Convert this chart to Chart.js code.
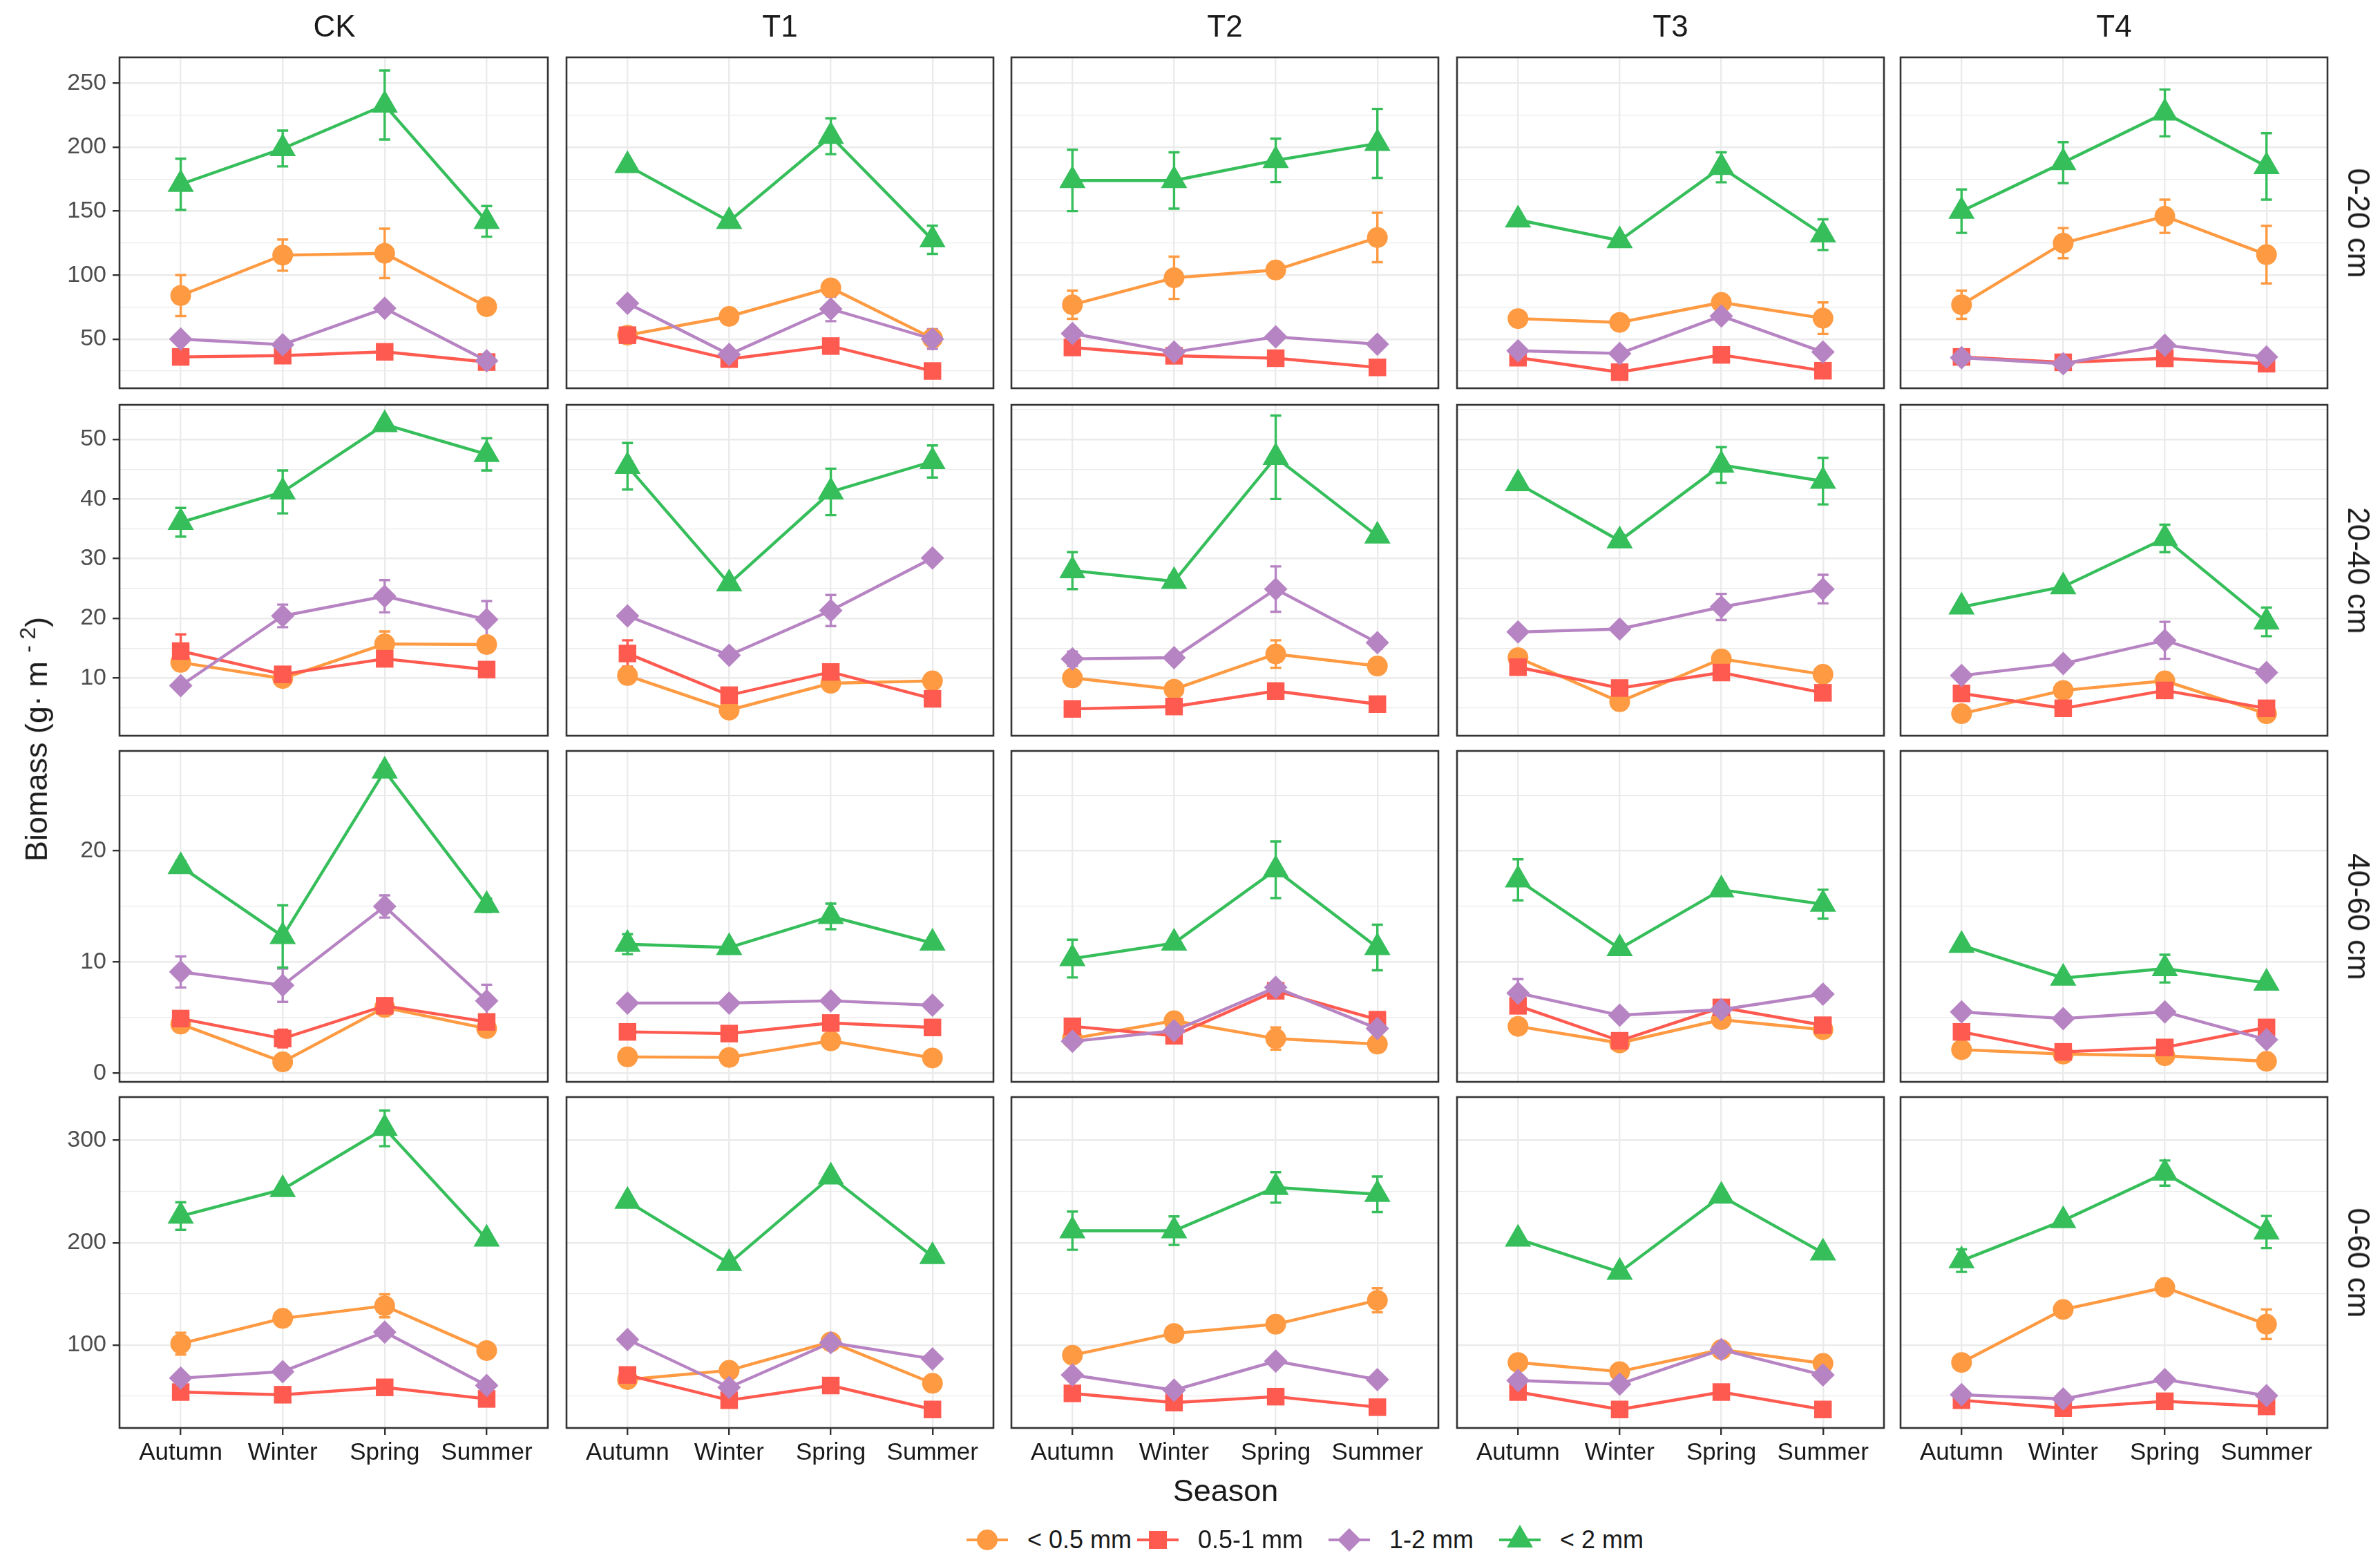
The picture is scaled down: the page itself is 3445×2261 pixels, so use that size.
<!DOCTYPE html>
<html>
<head>
<meta charset="utf-8">
<script src="https://cdn.jsdelivr.net/npm/chart.js@4.4.1/dist/chart.umd.min.js"></script>
<style>
html,body{margin:0;padding:0;background:#fff;}
body{width:3445px;height:2261px;position:relative;overflow:hidden;font-family:"Liberation Sans",Arial,Helvetica,sans-serif;}
.cw{position:absolute;}
.cw canvas{display:block;}
.lbl{position:absolute;white-space:nowrap;color:#1a1a1a;line-height:1;}
</style>
</head>
<body>
<script>
// ---------------- DATA ----------------
const seasons = ['Autumn', 'Winter', 'Spring', 'Summer'];
const treatments = ['CK', 'T1', 'T2', 'T3', 'T4'];
const depths = ['0-20 cm', '20-40 cm', '40-60 cm', '0-60 cm'];
const sizeClasses = ['< 0.5 mm', '0.5-1 mm', '1-2 mm', '< 2 mm'];

// y-axis ranges and tick labels per depth row
const yMin = [11.5, 0.3, -0.8, 18.9];
const yMax = [270.3, 55.8, 29.0, 342.3];
const yMajorTicks = [[50, 100, 150, 200, 250], [10, 20, 30, 40, 50], [0, 10, 20], [100, 200, 300]];
const yMinorTicks = [[25, 75, 125, 175, 225], [5, 15, 25, 35, 45, 55], [5, 15, 25], [50, 150, 250]];

// values: one array per size class and depth; rows = CK, T1, T2, T3, T4; columns = seasons
// 0-20 cm
const lt05_0_20 = [[84, 115.6, 117, 75.3], [53, 67.7, 90, 50.6], [76.8, 97.9, 104, 129.4], [66, 63, 78.6, 66.3], [76.8, 125, 146, 116]];
const lt05_0_20_se = [[16, 12.2, 19.3, 3], [0, 2, 2, 6], [11, 16.5, 5, 19.3], [2, 2, 3, 12.3], [11, 11.8, 13, 22.5]];
const r05_1_0_20 = [[36, 37, 40, 32], [53, 34.3, 44.5, 25], [43.4, 36.9, 35, 27.8], [35.4, 24.1, 37.6, 25.2], [36, 31.8, 34.9, 30.7]];
const r05_1_0_20_se = [[3, 3, 3, 2], [3, 2, 3, 2], [3, 2, 2, 2], [2, 2, 2, 2], [2, 2, 2, 2]];
const r1_2_0_20 = [[50, 45.6, 74, 33], [78, 38, 73.5, 50], [54.3, 39.8, 51.7, 46], [40.8, 38.7, 68, 39.8], [35.4, 30.7, 45.2, 36]];
const r1_2_0_20_se = [[3, 3, 4, 3], [3, 3, 9.5, 7.7], [4, 2, 3, 3], [2, 2, 3, 2], [2, 2, 3, 2]];
const lt2_0_20 = [[171, 199, 233, 142], [185.7, 142, 208.6, 127.6], [174, 174, 189.7, 203], [143.2, 127, 184.3, 131.6], [150, 188, 226.8, 185]];
const lt2_0_20_se = [[20, 14, 27, 12], [2, 2, 14, 11], [24, 22, 17, 27], [2, 2, 11.7, 12], [17, 16, 18.3, 26]];
// 20-40 cm
const lt05_20_40 = [[12.6, 9.9, 15.7, 15.6], [10.4, 4.6, 9.1, 9.5], [10, 8.1, 14, 12], [13.4, 6, 13.2, 10.6], [4, 7.9, 9.5, 4]];
const lt05_20_40_se = [[1, 0.8, 2.1, 1], [0.8, 0.6, 0.6, 0.6], [0.8, 0.8, 2.3, 0.8], [0.6, 0.6, 0.6, 0.6], [0.6, 0.6, 0.6, 0.6]];
const r05_1_20_40 = [[14.5, 10.6, 13.2, 11.4], [14.1, 7.1, 11, 6.5], [4.8, 5.2, 7.8, 5.6], [11.8, 8.3, 10.9, 7.5], [7.4, 4.9, 7.9, 4.9]];
const r05_1_20_40_se = [[2.8, 0.8, 1, 0.8], [2.2, 0.8, 0.8, 0.8], [0.6, 0.6, 0.6, 0.6], [0.6, 0.6, 0.6, 0.6], [0.6, 0.6, 0.6, 0.6]];
const r1_2_20_40 = [[8.7, 20.4, 23.7, 19.8], [20.4, 13.8, 21.3, 30.1], [13.2, 13.4, 24.9, 15.9], [17.7, 18.2, 21.9, 24.9], [10.4, 12.4, 16.3, 10.9]];
const r1_2_20_40_se = [[0.8, 1.9, 2.7, 3.1], [0.8, 0.8, 2.6, 0.8], [1.2, 0.8, 3.8, 1], [0.8, 0.8, 2.2, 2.4], [0.8, 0.8, 3.1, 0.8]];
const lt2_20_40 = [[36.1, 41.2, 52.5, 47.5], [45.5, 25.8, 41.2, 46.3], [28, 26.2, 47, 33.8], [42.6, 33, 45.7, 43], [21.9, 25.3, 33.4, 19.4]];
const lt2_20_40_se = [[2.4, 3.6, 0.8, 2.7], [3.9, 0.8, 3.9, 2.7], [3.1, 1, 7, 0.8], [0.8, 1, 3, 3.9], [0.8, 0.8, 2.3, 2.4]];
// 40-60 cm
const lt05_40_60 = [[4.4, 1.0, 5.9, 4.0], [1.45, 1.4, 2.9, 1.35], [3.1, 4.7, 3.1, 2.6], [4.2, 2.7, 4.8, 3.9], [2.1, 1.7, 1.55, 1.05]];
const lt05_40_60_se = [[0.4, 0.4, 0.4, 0.4], [0.3, 0.3, 0.3, 0.3], [0.3, 0.3, 1.0, 0.5], [0.3, 0.3, 0.3, 0.3], [0.3, 0.3, 0.3, 0.3]];
const r05_1_40_60 = [[4.9, 3.1, 6.05, 4.6], [3.7, 3.55, 4.5, 4.1], [4.2, 3.35, 7.4, 4.8], [6.05, 2.9, 5.9, 4.3], [3.7, 1.9, 2.3, 4.1]];
const r05_1_40_60_se = [[0.5, 0.8, 0.5, 0.5], [0.3, 0.3, 0.3, 0.3], [0.3, 0.3, 0.3, 0.3], [0.3, 0.3, 0.3, 0.3], [0.3, 0.3, 0.3, 0.3]];
const r1_2_40_60 = [[9.1, 7.9, 15.0, 6.5], [6.3, 6.3, 6.5, 6.1], [2.85, 3.8, 7.7, 4.0], [7.2, 5.2, 5.7, 7.1], [5.5, 4.9, 5.5, 3.0]];
const r1_2_40_60_se = [[1.4, 1.5, 1.0, 1.45], [0.3, 0.3, 0.3, 0.3], [0.3, 0.3, 0.3, 0.3], [1.25, 0.3, 0.3, 0.5], [0.3, 0.3, 0.3, 0.3]];
const lt2_40_60 = [[18.6, 12.3, 27.2, 15.1], [11.6, 11.3, 14.1, 11.7], [10.3, 11.7, 18.3, 11.3], [17.4, 11.2, 16.5, 15.2], [11.5, 8.55, 9.4, 8.1]];
const lt2_40_60_se = [[0.5, 2.8, 0.5, 0.6], [0.9, 0.3, 1.15, 0.3], [1.7, 0.3, 2.55, 2.05], [1.85, 0.3, 0.5, 1.3], [0.3, 0.3, 1.25, 0.3]];
// 0-60 cm
const lt05_0_60 = [[101.3, 126, 138.3, 94.6], [66.2, 75.2, 103, 62.6], [90, 111.3, 120.3, 143.7], [82.9, 74, 95.5, 82], [82.9, 134.7, 156.3, 120.3]];
const lt05_0_60_se = [[10.7, 5, 11.2, 5], [3, 3, 3, 3], [4, 4, 4, 11.7], [3, 3, 3, 3], [3, 3, 3, 14.5]];
const r05_1_0_60 = [[54, 51.4, 58.6, 47.3], [70.7, 46, 60.4, 37], [52.7, 43.7, 49.5, 39.2], [54, 37, 54, 37], [46, 38.3, 45, 40]];
const r05_1_0_60_se = [[3, 3, 3, 3], [3, 3, 3, 3], [3, 3, 3, 3], [3, 3, 3, 3], [3, 3, 3, 3]];
const r1_2_0_60 = [[67.6, 74, 112.6, 60.4], [105.4, 58.6, 102.3, 86.5], [70.7, 55.9, 84.2, 66.2], [65.3, 61.7, 95.5, 70.7], [51.4, 47.3, 66.2, 50.5]];
const r1_2_0_60_se = [[3, 3, 5, 3], [3, 3, 3, 3], [3, 3, 3, 3], [3, 3, 3, 3], [3, 3, 3, 3]];
const lt2_0_60 = [[226, 252, 311.7, 203.6], [240.5, 179.7, 264.4, 186.5], [211.7, 211.7, 254, 247.3], [203.6, 171.2, 245.5, 190], [182.4, 221.6, 268, 210.4]];
const lt2_0_60_se = [[13.5, 3, 17.4, 3], [3, 3, 3, 3], [18.7, 14, 14.9, 17.4], [3, 3, 3, 3], [11, 3, 12.3, 15.7]];

const rowValues = [
  [lt05_0_20, r05_1_0_20, r1_2_0_20, lt2_0_20],
  [lt05_20_40, r05_1_20_40, r1_2_20_40, lt2_20_40],
  [lt05_40_60, r05_1_40_60, r1_2_40_60, lt2_40_60],
  [lt05_0_60, r05_1_0_60, r1_2_0_60, lt2_0_60]
];
const rowErrors = [
  [lt05_0_20_se, r05_1_0_20_se, r1_2_0_20_se, lt2_0_20_se],
  [lt05_20_40_se, r05_1_20_40_se, r1_2_20_40_se, lt2_20_40_se],
  [lt05_40_60_se, r05_1_40_60_se, r1_2_40_60_se, lt2_40_60_se],
  [lt05_0_60_se, r05_1_0_60_se, r1_2_0_60_se, lt2_0_60_se]
];

// ---------------- STYLE / LAYOUT ----------------
const colors = ['#FE9A42', '#FE5A50', '#B784C3', '#36BE5B'];
const pointStyles = ['circle', 'rect', 'rectRot', 'triangle'];
const pointRadii = [15, 18, 17, 22];
const FONT = "'Liberation Sans', Arial, Helvetica, sans-serif";
const PX = [173, 818, 1462, 2107, 2749];
const PY = [83, 586, 1087, 1588];
const PW = 622, PH = 479;
const SIDE = 20, TOPPAD = 40, XAXIS_H = 90;

Chart.defaults.font.family = FONT;

const errorBarPlugin = {
  id: 'errbars',
  beforeDatasetsDraw(chart) {
    const ctx = chart.ctx, ys = chart.scales.y;
    chart.data.datasets.forEach((ds, i) => {
      const meta = chart.getDatasetMeta(i);
      if (!ds.errors) return;
      ctx.save();
      ctx.strokeStyle = ds.borderColor;
      ctx.lineWidth = 3.4;
      meta.data.forEach((pt, j) => {
        const e = ds.errors[j];
        if (!e) return;
        const v = ds.data[j].y;
        const y1 = ys.getPixelForValue(v + e), y2 = ys.getPixelForValue(v - e);
        ctx.beginPath();
        ctx.moveTo(pt.x, y1); ctx.lineTo(pt.x, y2);
        ctx.moveTo(pt.x - 8, y1); ctx.lineTo(pt.x + 8, y1);
        ctx.moveTo(pt.x - 8, y2); ctx.lineTo(pt.x + 8, y2);
        ctx.stroke();
      });
      ctx.restore();
    });
  }
};

const panelPlugin = {
  id: 'panel',
  beforeDraw(chart) {
    const a = chart.chartArea, ctx = chart.ctx;
    ctx.save(); ctx.fillStyle = '#ffffff';
    ctx.fillRect(a.left, a.top, a.right - a.left, a.bottom - a.top);
    ctx.restore();
  },
  afterDraw(chart) {
    const a = chart.chartArea, ctx = chart.ctx;
    ctx.save(); ctx.strokeStyle = '#333333'; ctx.lineWidth = 2.6;
    ctx.strokeRect(a.left, a.top, a.right - a.left, a.bottom - a.top);
    ctx.restore();
  }
};

function makeChart(r, c) {
  const isLeft = c === 0, isBottom = r === 3;
  const wrap = document.createElement('div');
  wrap.className = 'cw';
  const left = isLeft ? 0 : PX[c] - SIDE;
  const top = PY[r] - TOPPAD;
  const w = (isLeft ? PX[0] : SIDE) + PW + SIDE;
  const h = TOPPAD + PH + (isBottom ? XAXIS_H : TOPPAD);
  wrap.style.left = left + 'px'; wrap.style.top = top + 'px';
  wrap.style.width = w + 'px'; wrap.style.height = h + 'px';
  const cv = document.createElement('canvas');
  wrap.appendChild(cv);
  document.body.appendChild(wrap);

  const majors = yMajorTicks[r], minors = yMinorTicks[r];
  const allTicks = majors.concat(minors).sort((a, b) => a - b);
  const isMajor = v => majors.indexOf(v) >= 0;

  const datasets = sizeClasses.map((name, k) => ({
    label: name,
    data: seasons.map((s, j) => ({ x: j + 1, y: rowValues[r][k][c][j] })),
    errors: rowErrors[r][k][c],
    borderColor: colors[k],
    backgroundColor: colors[k],
    pointBackgroundColor: colors[k],
    pointBorderColor: colors[k],
    pointBorderWidth: 0,
    pointStyle: pointStyles[k],
    pointRadius: pointRadii[k],
    pointHoverRadius: pointRadii[k],
    borderWidth: 4.4,
    tension: 0,
    order: 4 - k,
    clip: false
  }));

  new Chart(cv, {
    type: 'line',
    data: { datasets },
    plugins: [panelPlugin, errorBarPlugin],
    options: {
      responsive: true,
      maintainAspectRatio: false,
      animation: false,
      events: [],
      layout: { padding: { left: isLeft ? 0 : SIDE, right: SIDE, top: TOPPAD, bottom: isBottom ? 0 : TOPPAD } },
      plugins: { legend: { display: false }, tooltip: { enabled: false } },
      scales: {
        x: {
          type: 'linear', min: 0.4, max: 4.6,
          afterBuildTicks: s => { s.ticks = [1, 2, 3, 4].map(v => ({ value: v })); },
          afterFit: s => { s.height = isBottom ? XAXIS_H : 0; },
          border: { display: false },
          grid: { color: '#EBEBEB', lineWidth: 2.4, drawTicks: isBottom, tickLength: 10, tickColor: '#333333', tickWidth: 2.4 },
          ticks: { display: isBottom, padding: 5, color: '#1A1A1A', font: { size: 35, family: FONT }, maxRotation: 0, autoSkip: false,
                   callback: v => seasons[Math.round(v) - 1] }
        },
        y: {
          type: 'linear', min: yMin[r], max: yMax[r],
          afterBuildTicks: s => { s.ticks = allTicks.map(v => ({ value: v })); },
          afterFit: s => { s.width = isLeft ? PX[0] : 0; },
          border: { display: false },
          grid: {
            color: '#EBEBEB',
            lineWidth: ctx => (ctx.tick && isMajor(ctx.tick.value)) ? 2.4 : 1.2,
            drawTicks: isLeft, tickLength: 10,
            tickColor: ctx => (ctx.tick && isMajor(ctx.tick.value)) ? '#333333' : 'rgba(0,0,0,0)',
            tickWidth: 2.4
          },
          ticks: { display: isLeft, padding: 9, color: '#4D4D4D', font: { size: 34, family: FONT }, autoSkip: false,
                   callback: v => isMajor(v) ? String(v) : '' }
        }
      }
    }
  });
}

for (let r = 0; r < depths.length; r++) for (let c = 0; c < treatments.length; c++) makeChart(r, c);

// ---------------- TEXT LABELS ----------------
function addLabel(text, x, y, size, rot, html) {
  const d = document.createElement('div');
  d.className = 'lbl';
  if (html) d.innerHTML = text; else d.textContent = text;
  d.style.fontSize = size + 'px';
  d.style.left = x + 'px'; d.style.top = y + 'px';
  d.style.transform = 'translate(-50%,-50%)' + (rot ? ' rotate(' + rot + 'deg)' : '');
  document.body.appendChild(d);
  return d;
}
treatments.forEach((t, c) => addLabel(t, PX[c] + PW / 2, 38, 44, 0));
depths.forEach((d, r) => addLabel(d, 3414, PY[r] + PH / 2, 44, 90));
addLabel('Biomass (g· m <sup style="font-size:0.7em;vertical-align:0.55em">- 2</sup>)', 50, 1070, 45, -90, true);
addLabel('Season', 1774, 2157, 45, 0);

// legend
const legendKeyX = [1429, 1676, 1953, 2200];
const legendY = 2229;
function markerSvg(k) {
  const col = colors[k];
  let shape = '';
  if (k === 0) shape = `<circle cx="30" cy="25" r="15" fill="${col}"/>`;
  if (k === 1) shape = `<rect x="17" y="12" width="26" height="26" fill="${col}"/>`;
  if (k === 2) shape = `<polygon points="30,8 47,25 30,42 13,25" fill="${col}"/>`;
  if (k === 3) shape = `<polygon points="30,3 49,36 11,36" fill="${col}"/>`;
  return `<svg width="60" height="50" viewBox="0 0 60 50"><line x1="0" y1="25" x2="60" y2="25" stroke="${col}" stroke-width="4"/>${shape}</svg>`;
}
sizeClasses.forEach((name, k) => {
  const m = document.createElement('div');
  m.style.position = 'absolute';
  m.style.left = (legendKeyX[k] - 30) + 'px';
  m.style.top = (legendY - 25) + 'px';
  m.innerHTML = markerSvg(k);
  document.body.appendChild(m);
  const t = document.createElement('div');
  t.className = 'lbl';
  t.textContent = name;
  t.style.fontSize = '36px';
  t.style.left = (legendKeyX[k] + 58) + 'px';
  t.style.top = legendY + 'px';
  t.style.transform = 'translateY(-50%)';
  document.body.appendChild(t);
});
</script>
</body>
</html>
